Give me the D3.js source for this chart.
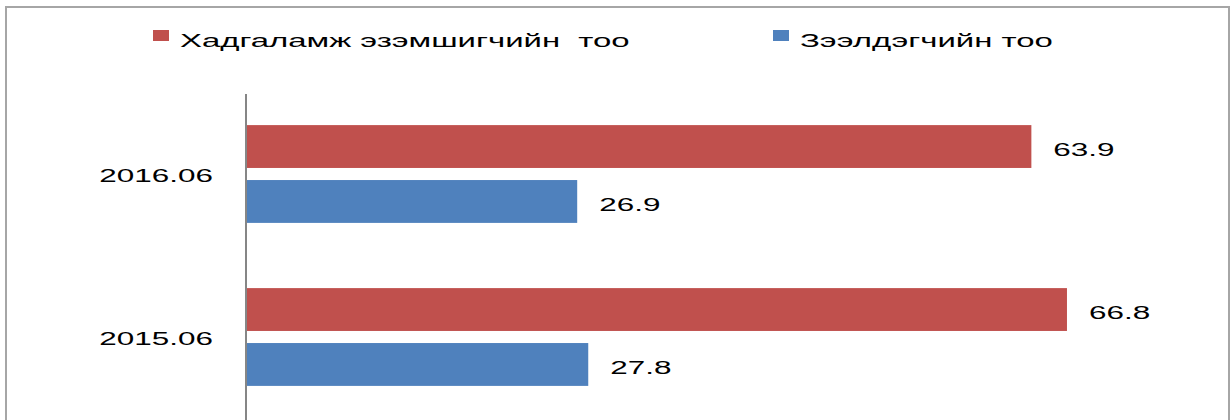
<!DOCTYPE html>
<html>
<head>
<meta charset="utf-8">
<script src="https://cdn.jsdelivr.net/npm/d3@7"></script>
<style>
  html, body { margin: 0; padding: 0; background: #fff; }
  svg { display: block; }
  text { font-family: "Liberation Sans", Arial, sans-serif; fill: #000; white-space: pre; }
</style>
</head>
<body>
<svg id="chart" width="1230" height="420"></svg>
<script>
// ---- data ----
const categories = ["2016.06", "2015.06"];
const seriesNames = ["Хадгаламж эзэмшигчийн  тоо", "Зээлдэгчийн тоо"];
const savers = [63.9, 66.8];      // Хадгаламж эзэмшигчийн тоо
const borrowers = [26.9, 27.8];   // Зээлдэгчийн тоо
const seriesColors = ["#C0504D", "#4F81BD"];

// ---- layout ----
const stretch = 1.7;   // horizontal text stretch seen in the reference
const legendStretch = 1.78;
const fs = 18.5;
const svg = d3.select("#chart");

// outer border
svg.append("rect")
  .attr("x", 6).attr("y", 7).attr("width", 1223).attr("height", 430)
  .attr("fill", "none").attr("stroke", "#A6A6A6").attr("stroke-width", 2);

const x = d3.scaleLinear().domain([0, 80]).range([247, 1229]);
const y0 = d3.scaleBand().domain(categories).range([92.5, 418.5])
  .paddingInner(0.4).paddingOuter(0.2);
const y1 = d3.scaleBand().domain([0, 1]).range([0, y0.bandwidth()]).paddingInner(0.22).paddingOuter(0);

const series = [savers, borrowers];
const rows = [];
categories.forEach((c, i) => {
  series.forEach((s, j) => rows.push({cat: c, s: j, v: s[i]}));
});

// bars
svg.append("g").selectAll("rect").data(rows).join("rect")
  .attr("x", x(0))
  .attr("y", d => y0(d.cat) + y1(d.s))
  .attr("width", d => x(d.v) - x(0))
  .attr("height", y1.bandwidth())
  .attr("fill", d => seriesColors[d.s]);

// value labels
svg.append("g").selectAll("text").data(rows).join("text")
  .attr("transform", d => `translate(${x(d.v) + 22},${y0(d.cat) + y1(d.s) + y1.bandwidth() / 2 + 3}) scale(${stretch},1)`)
  .attr("dy", "0.36em")
  .attr("font-size", fs)
  .text(d => d.v.toFixed(1));

// category axis
const axisG = svg.append("g").attr("transform", `translate(${x(0) - 1},0)`);
axisG.append("line").attr("x1", 0).attr("x2", 0).attr("y1", 94).attr("y2", 420)
  .attr("stroke", "#868686").attr("stroke-width", 2);
axisG.selectAll("text.cat").data(categories).join("text")
  .attr("class", "cat")
  .attr("text-anchor", "end")
  .attr("transform", d => `translate(-33,${y0(d) + y0.bandwidth() / 2 + 1}) scale(${stretch},1)`)
  .attr("dy", "0.36em")
  .attr("font-size", fs)
  .text(d => d);

// legend
const legendX = [153, 773];
const lg = svg.append("g").selectAll("g").data(seriesNames).join("g")
  .attr("transform", (d, i) => `translate(${legendX[i]},0)`);
lg.append("rect").attr("x", 0).attr("y", 30).attr("width", 16).attr("height", 11)
  .attr("fill", (d, i) => seriesColors[i]);
lg.append("text")
  .attr("transform", `translate(27,47) scale(${legendStretch},1)`)
  .attr("font-size", fs)
  .text(d => d);
</script>
</body>
</html>
